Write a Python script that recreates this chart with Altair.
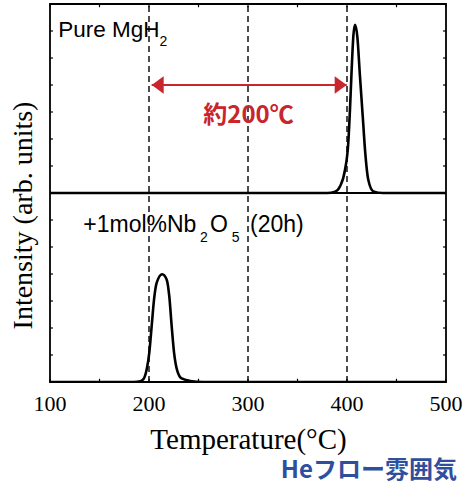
import altair as alt
import pandas as pd

# ---------------- data ----------------
# Pure MgH2 (upper panel), intensity in arbitrary units above the panel baseline
temp_top = [100, 300, 380, 388, 393, 398, 401.3, 403, 404.7, 406.4, 408.1,
            410.4, 413.1, 415.9, 418.2, 421.5, 426.6, 436, 500]
int_top = [0, 0, 0, 0.05, 0.25, 0.86, 1.86, 3.09, 4.57, 5.80, 6.23,
           5.80, 4.32, 2.84, 1.60, 0.49, 0.06, 0, 0]

# +1mol%Nb2O5 (20h) (lower panel)
temp_bot = [100, 180, 190, 194.2, 197.7, 200.3, 202.7, 205.1, 207.8, 213.4,
            217.9, 220.5, 222.9, 225.3, 228.6, 233.0, 241.4, 255, 500]
int_bot = [0, 0, 0.02, 0.10, 0.47, 1.09, 2.07, 3.06, 3.68, 3.99,
           3.79, 3.17, 2.07, 1.09, 0.41, 0.13, 0.04, 0, 0]

panel_offset = 7          # upper panel baseline in intensity units
y_max = 14
x_labels = [100, 200, 300, 400, 500]
x_label_text = ["100", "200", "300", "400", "500"]
x_minor = [100, 150, 200, 250, 300, 350, 400, 450, 500]
y_minor = list(range(0, 15))
dashed_at = [200, 300, 400]
arrow_from, arrow_to, arrow_y = 202.7, 399.7, 11

# ---------------- tables ----------------
curves = pd.DataFrame({
    "T": temp_top + temp_bot,
    "I": int_top + int_bot,
    "sample": ["top"] * len(temp_top) + ["bot"] * len(temp_bot),
})

xs = alt.Scale(domain=[100, 500], nice=False, zero=False)
ys = alt.Scale(domain=[0, y_max], nice=False, zero=False)

X_AX = alt.Axis(values=x_labels, labels=False, ticks=False, domain=False, grid=False,
                title="Temperature(°C)", titleFont="Liberation Serif",
                titleFontSize=29, titleFontWeight="normal", titleColor="black",
                titleBaseline="alphabetic", titleY=66)
Y_AX = alt.Axis(labels=False, ticks=False, domain=False, grid=False,
                title="Intensity (arb. units)", titleFont="Liberation Serif",
                titleFontSize=28, titleFontWeight="normal", titleColor="black",
                titleAngle=270, titleBaseline="alphabetic", titleX=-19, titleY=211)

lines = alt.Chart(curves).transform_calculate(
    y=f"datum.sample == 'top' ? datum.I + {panel_offset} : datum.I"
).mark_line(color="black", strokeWidth=2.6, interpolate="monotone", clip=True).encode(
    x=alt.X("T:Q", scale=xs, axis=X_AX),
    y=alt.Y("y:Q", scale=ys, axis=Y_AX),
    detail="sample:N",
)

dash = alt.Chart(pd.DataFrame({"T": dashed_at})).mark_rule(
    color="black", strokeWidth=1.4, strokeDash=[6, 4]
).encode(x=alt.X("T:Q", scale=xs, axis=X_AX), y=alt.datum(0, scale=ys), y2=alt.datum(y_max))

divider = alt.Chart(pd.DataFrame({"y": [panel_offset]})).mark_rule(
    color="black", strokeWidth=2
).encode(y=alt.Y("y:Q", scale=ys, axis=Y_AX), x=alt.datum(100, scale=xs), x2=alt.datum(500))

# inward minor ticks
xt = pd.DataFrame({"T": x_minor})
tick_bottom = alt.Chart(xt).mark_rule(color="black", strokeWidth=1.2).encode(
    x=alt.X("T:Q", scale=xs, axis=X_AX), y=alt.datum(0, scale=ys), y2=alt.datum(0.12))
tick_top = alt.Chart(xt).mark_rule(color="black", strokeWidth=1.2).encode(
    x=alt.X("T:Q", scale=xs, axis=X_AX), y=alt.datum(y_max, scale=ys), y2=alt.datum(y_max - 0.12))
yt = pd.DataFrame({"y": y_minor})
tick_left = alt.Chart(yt).mark_rule(color="black", strokeWidth=1.2).encode(
    y=alt.Y("y:Q", scale=ys, axis=Y_AX), x=alt.datum(100, scale=xs), x2=alt.datum(103))
tick_right = alt.Chart(yt).mark_rule(color="black", strokeWidth=1.2).encode(
    y=alt.Y("y:Q", scale=ys, axis=Y_AX), x=alt.datum(500, scale=xs), x2=alt.datum(497))

# x tick labels (serif, drawn as text at the tick values)
xlab = alt.Chart(pd.DataFrame({"T": x_labels, "txt": x_label_text})).mark_text(
    align="center", baseline="alphabetic", font="Liberation Serif", fontSize=22,
    color="black", clip=False
).encode(x=alt.X("T:Q", scale=xs, axis=X_AX), y=alt.datum(-1.06, scale=ys), text="txt:N")

# red double arrow
red = "#c9252c"
arrow_line = alt.Chart(pd.DataFrame({"a": [arrow_from], "b": [arrow_to], "y": [arrow_y]})).mark_rule(
    color=red, strokeWidth=2.2
).encode(x=alt.X("a:Q", scale=xs, axis=X_AX), x2="b:Q", y=alt.Y("y:Q", scale=ys, axis=Y_AX))
head_l = alt.Chart(pd.DataFrame({"T": [arrow_from], "y": [arrow_y]})).mark_point(
    shape="M 0 0 L 2 -1.45 L 2 1.45 Z", size=144, filled=True, color=red, opacity=1, strokeWidth=0
).encode(x=alt.X("T:Q", scale=xs, axis=X_AX), y=alt.Y("y:Q", scale=ys, axis=Y_AX))
head_r = alt.Chart(pd.DataFrame({"T": [arrow_to], "y": [arrow_y]})).mark_point(
    shape="M 0 0 L -2 -1.45 L -2 1.45 Z", size=144, filled=True, color=red, opacity=1, strokeWidth=0
).encode(x=alt.X("T:Q", scale=xs, axis=X_AX), y=alt.Y("y:Q", scale=ys, axis=Y_AX))

# annotations
labels = pd.DataFrame({
    "txt": ["Pure MgH", "2", "+1mol%Nb", "2", "O", "5", "(20h)"],
    "T": [108.4, 210.5, 133.6, 251.5, 261.6, 283.5, 302.0],
    "y": [12.79, 12.46, 5.56, 5.19, 5.56, 5.19, 5.56],
    "fs": [22.5, 14, 23, 14, 23, 14, 23],
})
ann = alt.Chart(labels).mark_text(
    align="left", baseline="alphabetic", font="Liberation Sans", color="black"
).encode(
    x=alt.X("T:Q", scale=xs, axis=X_AX), y=alt.Y("y:Q", scale=ys, axis=Y_AX),
    text="txt:N", size=alt.Size("fs:Q", scale=None, legend=None),
)

approx = alt.Chart(pd.DataFrame({"txt": ["約200℃"], "T": [300.5], "y": [9.84]})).mark_text(
    align="center", baseline="middle", font="Noto Sans CJK JP", fontWeight="bold",
    fontSize=24, color=red
).encode(x=alt.X("T:Q", scale=xs, axis=X_AX), y=alt.Y("y:Q", scale=ys, axis=Y_AX), text="txt:N")

he = alt.Chart(pd.DataFrame({"txt": ["Heフロー雰囲気"], "T": [511.0], "y": [-3.3]})).mark_text(
    align="right", baseline="middle", font="Noto Sans CJK JP", fontWeight="bold",
    fontSize=24, color="#2f4f9e", clip=False
).encode(x=alt.X("T:Q", scale=xs, axis=X_AX), y=alt.Y("y:Q", scale=ys, axis=Y_AX), text="txt:N")

chart = alt.layer(
    lines, dash, divider, tick_bottom, tick_top, tick_left, tick_right,
    arrow_line, head_l, head_r, ann, approx, he, xlab
).properties(
    width=396, height=378,
    autosize=alt.AutoSizeParams(type="none"),
    padding={"left": 50, "top": 4, "right": 19, "bottom": 102},
    background="white",
).configure_view(stroke="black", strokeWidth=1.8)

chart.save("out.html", embed_options={"renderer": "svg", "actions": False})
